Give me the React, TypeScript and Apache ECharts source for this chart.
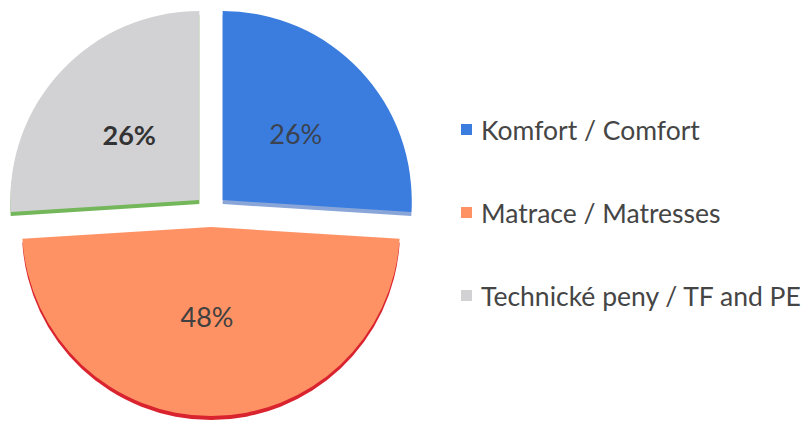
import React, { useEffect, useRef } from "react";
import * as echarts from "echarts";

const categories = ["Komfort / Comfort", "Matrace / Matresses", "Technické peny / TF and PE"];
const values = [26, 48, 26];
const topColors = ["#3a7ddf", "#ff9264", "#d2d2d5"];
const edgeColors = ["#8aa6d8", "#d9232e", "#74b65a"];
const labelColors = ["#3b4250", "#404040", "#333333"];
const labelWeights = ["normal", "normal", "bold"];
const labelShift = [[2, 0], [-4, -8], [1, 1]];

export default function App() {
  const ref = useRef<HTMLDivElement>(null);
  useEffect(() => {
    const chart = echarts.init(ref.current!, null, { renderer: "svg" });
    const mainData = categories.map((name, i) => ({
      name,
      value: values[i],
      selected: true,
      itemStyle: { color: topColors[i] },
      label: { color: labelColors[i], fontWeight: labelWeights[i] as any },
    }));
    const edgeData = categories.map((name, i) => ({
      name,
      value: values[i],
      selected: true,
      itemStyle: { color: edgeColors[i] },
    }));
    chart.setOption({
      animation: false,
      legend: {
        orient: "vertical",
        left: 456,
        top: 111,
        icon: "rect",
        itemWidth: 11,
        itemHeight: 11,
        itemGap: 56,
        selectedMode: false,
        data: categories,
        textStyle: { fontFamily: "Lato", fontSize: 26.5, color: "#454545", padding: [0, 0, 0, 4] },
      },
      series: [
        {
          type: "pie",
          name: "main",
          z: 3,
          center: [211, 211],
          radius: [0, 189],
          startAngle: 90,
          clockwise: true,
          selectedMode: "multiple",
          selectedOffset: 16,
          label: {
            show: true,
            position: "inside",
            formatter: "{d}%",
            fontFamily: "Lato",
            fontSize: 27,
          },
          labelLayout: (p: any) => ({ dx: labelShift[p.dataIndex][0], dy: labelShift[p.dataIndex][1] }),
          labelLine: { show: false },
          itemStyle: { borderWidth: 0 },
          emphasis: { disabled: true },
          data: mainData,
        },
        {
          type: "pie",
          name: "edge",
          z: 1,
          center: [211, 215],
          radius: [0, 189],
          startAngle: 90,
          clockwise: true,
          selectedMode: "multiple",
          selectedOffset: 16,
          label: { show: false },
          labelLine: { show: false },
          itemStyle: { borderWidth: 0 },
          emphasis: { disabled: true },
          silent: true,
          data: edgeData,
        },
      ],
    });
    return () => chart.dispose();
  }, []);
  return (
    <div
      ref={ref}
      style={{ position: "fixed", left: 0, top: 0, width: 807, height: 425, background: "#ffffff" }}
    />
  );
}
